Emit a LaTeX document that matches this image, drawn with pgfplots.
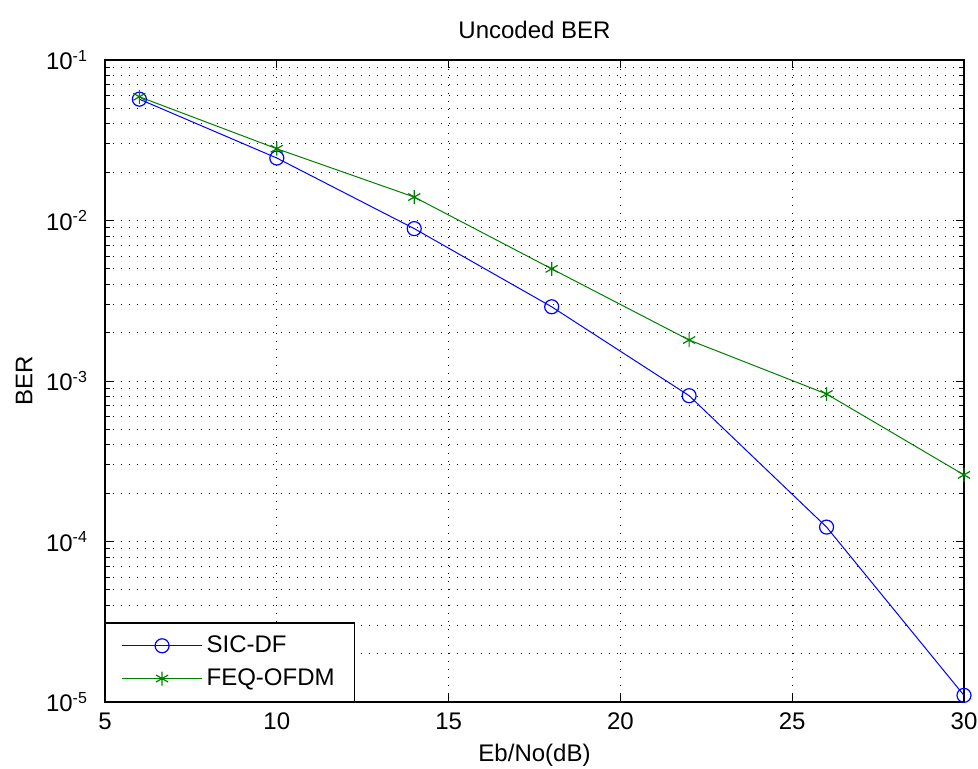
\documentclass[border=0pt]{standalone}
\usepackage{pgfplots}
\pgfplotsset{compat=1.18}
\usepackage{fontspec}
\setmainfont{Liberation Sans}

\definecolor{sicblue}{RGB}{0,0,255}
\definecolor{feqgreen}{RGB}{0,128,0}

\begin{document}
\begin{tikzpicture}
\begin{axis}[
    scale only axis,
    width=429.5pt, height=321pt,
    ymode=log,
    xmin=5, xmax=30,
    ymin=1e-5, ymax=1e-1,
    xtick={5,10,15,20,25,30},
    xticklabels={5,10,15,20,25,30},
    ytick={1e-5,1e-4,1e-3,1e-2,1e-1},
    yticklabels={10\textsuperscript{-5},10\textsuperscript{-4},10\textsuperscript{-3},10\textsuperscript{-2},10\textsuperscript{-1}},
    minor x tick num=0,
    grid=both,
    major grid style={black, line width=0.45pt, dash pattern=on 0.7pt off 3.3pt},
    minor grid style={black, line width=0.45pt, dash pattern=on 0.7pt off 3.3pt},
    tick align=inside,
    major tick length=4pt,
    minor tick length=2.5pt,
    every tick/.style={black, line width=0.5pt},
    axis line style={black, line width=0.7pt},
    font=\fontsize{12}{14}\selectfont,
    title={Uncoded BER},
    title style={yshift=1pt},
    xlabel={Eb/No(dB)},
    ylabel={BER},
    xticklabel style={yshift=-2pt},
    yticklabel style={xshift=-5pt},
    legend style={at={(0,0)}, anchor=south west, draw=black, fill=white,
        line width=0.6pt,
        font=\fontsize{12}{14}\selectfont, inner xsep=8pt, inner ysep=4.5pt, row sep=2.5pt},
    legend cell align=left,
    legend image code/.code={
        \draw[mark repeat=2, mark phase=2] plot coordinates {(0pt,0pt) (20pt,0pt) (40pt,0pt)};
    },
]
\addplot[color=sicblue, line width=0.5pt, mark=o, mark size=3.5pt, mark options={line width=0.6pt}]
coordinates {
    (6, 0.057) (10, 0.0245) (14, 0.0089) (18, 0.0029)
    (22, 0.00081) (26, 0.000123) (30, 0.000011)
};
\addlegendentry{SIC-DF}
\addplot[color=feqgreen, line width=0.5pt, mark=asterisk, mark size=3.5pt, mark options={line width=0.6pt}]
coordinates {
    (6, 0.059) (10, 0.028) (14, 0.014) (18, 0.005)
    (22, 0.0018) (26, 0.00083) (30, 0.00026)
};
\addlegendentry{FEQ-OFDM}
\end{axis}
\pgfresetboundingbox
\path[use as bounding box] (current axis.south west) ++(-52.5pt,-33pt)
    rectangle ([xshift=7pt, yshift=30pt]current axis.north east);
\end{tikzpicture}
\end{document}
